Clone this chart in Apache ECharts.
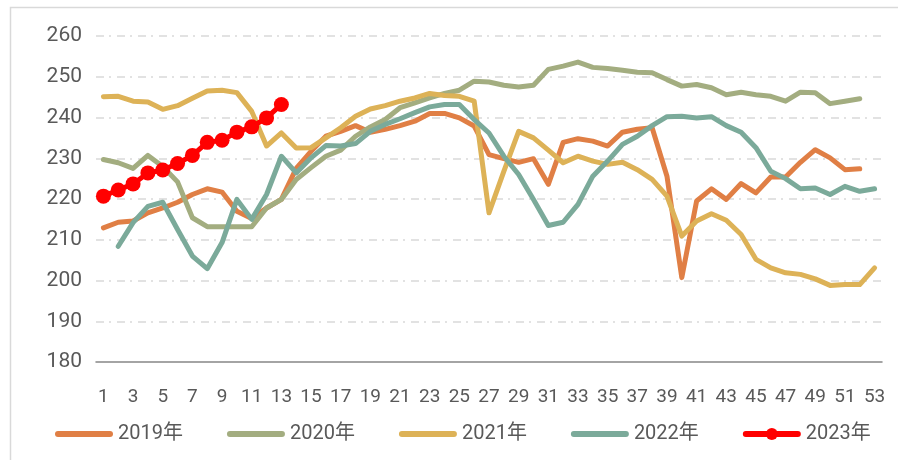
<!DOCTYPE html>
<html>
<head>
<meta charset="utf-8">
<script src="https://cdn.jsdelivr.net/npm/echarts@6/dist/echarts.min.js"></script>
<style>html,body{margin:0;padding:0;background:#fff;}#c{width:898px;height:460px;}</style>
</head>
<body>
<div id="c"></div>
<script>
const weeks = Array.from({length: 53}, (_, i) => String(i + 1));
const yTicks = [180, 190, 200, 210, 220, 230, 240, 250, 260];
const seriesNames = ['2019年', '2020年', '2021年', '2022年', '2023年'];
const y2019 = [212.9, 214.3, 214.6, 216.6, 217.8, 219.2, 221.1, 222.5, 221.7, 217.0, 215.2, 217.8, 219.9, 227.5, 231.7, 235.4, 236.6, 238.0, 236.4, 237.1, 238.0, 239.1, 241.0, 241.0, 239.9, 237.9, 230.9, 229.9, 229.0, 229.9, 223.6, 233.9, 234.8, 234.2, 233.0, 236.4, 237.1, 237.5, 225.6, 200.7, 219.5, 222.5, 219.9, 223.8, 221.5, 225.4, 225.4, 229.0, 232.1, 230.1, 227.2, 227.4];
const y2020 = [229.7, 228.9, 227.5, 230.7, 228.0, 224.2, 215.4, 213.2, 213.2, 213.2, 213.2, 217.8, 219.9, 224.8, 227.7, 230.5, 232.0, 235.4, 237.7, 239.5, 242.4, 243.6, 244.8, 245.9, 246.7, 248.9, 248.7, 247.9, 247.5, 247.9, 251.8, 252.6, 253.6, 252.3, 252.0, 251.6, 251.1, 251.0, 249.3, 247.7, 248.1, 247.3, 245.6, 246.2, 245.6, 245.2, 244.0, 246.2, 246.1, 243.4, 244.0, 244.6];
const y2021 = [245.1, 245.2, 244.0, 243.8, 242.0, 242.9, 244.7, 246.5, 246.7, 246.1, 241.5, 233.0, 236.2, 232.5, 232.6, 235.0, 237.5, 240.3, 242.1, 242.9, 244.0, 244.8, 245.9, 245.4, 245.2, 244.0, 216.6, 226.8, 236.6, 235.0, 232.0, 228.9, 230.5, 229.3, 228.5, 229.0, 227.2, 224.8, 220.7, 210.9, 214.6, 216.4, 214.8, 211.3, 205.2, 203.1, 201.9, 201.5, 200.4, 198.8, 199.0, 199.0, 203.1];
const y2022 = [null, 208.4, 214.2, 218.2, 219.2, 212.5, 206.0, 202.9, 209.3, 219.9, 215.0, 221.1, 230.5, 226.4, 230.1, 233.1, 233.0, 233.6, 236.6, 238.3, 239.7, 241.2, 242.6, 243.2, 243.2, 239.5, 236.2, 230.5, 226.0, 219.9, 213.5, 214.3, 218.7, 225.6, 229.3, 233.4, 235.4, 238.0, 240.2, 240.3, 239.9, 240.2, 238.0, 236.4, 232.6, 226.8, 225.0, 222.5, 222.7, 221.1, 223.1, 221.9, 222.5];
const y2023 = [220.7, 222.2, 223.7, 226.4, 227.1, 228.7, 230.7, 233.9, 234.4, 236.4, 237.7, 239.9, 243.2];

const colors = ['#E07F45', '#A3AD80', '#DDB257', '#7BAA9A', '#FF0000'];
const seriesData = [y2019, y2020, y2021, y2022, y2023];
const FONT = 'Roboto, "Noto Sans CJK SC", sans-serif';

const chart = echarts.init(document.getElementById('c'), null, {renderer: 'canvas'});
chart.setOption({
  animation: false,
  backgroundColor: '#fff',
  graphic: [{
    type: 'rect', silent: true, z: -10,
    shape: {x: 10.5, y: 7.5, width: 1000, height: 1000},
    style: {fill: 'none', stroke: '#d9d9d9', lineWidth: 1.5}
  }],
  grid: {left: 96, right: 16, top: 36, bottom: 98, containLabel: false},
  legend: {
    left: 55, top: 424, padding: 0,
    itemWidth: 52, itemHeight: 15, itemGap: 44,
    textStyle: {fontFamily: FONT, fontSize: 20, color: '#595959', padding: [0, 0, 0, 3]},
    data: seriesNames.map((n, i) => ({
      name: n,
      lineStyle: {width: 6, color: colors[i], cap: 'round'},
      itemStyle: i === 4 ? {color: colors[i]} : {color: 'rgba(0,0,0,0)', opacity: 0, borderWidth: 0}
    }))
  },
  xAxis: {
    type: 'category', data: weeks, boundaryGap: true,
    axisLine: {show: true, lineStyle: {color: '#868686', width: 1.5}},
    axisTick: {show: false},
    axisLabel: {interval: 1, margin: 26, fontFamily: FONT, fontSize: 19, color: '#595959'}
  },
  yAxis: {
    type: 'value', min: 180, max: 260, interval: 10,
    axisLine: {show: false}, axisTick: {show: false},
    axisLabel: {margin: 14, fontFamily: FONT, fontSize: 21, color: '#595959'},
    splitLine: {show: true, showMinLine: false, lineStyle: {color: '#d9d9d9', width: 1.5, type: [8, 5, 2, 6]}}
  },
  series: seriesData.map((d, i) => ({
    name: seriesNames[i], type: 'line', data: d,
    color: colors[i],
    symbol: i === 4 ? 'circle' : 'none',
    showSymbol: i === 4, showAllSymbol: true, symbolSize: 15,
    connectNulls: false,
    lineStyle: {width: 5, color: colors[i], cap: 'round', join: 'round'},
    itemStyle: {color: colors[i]},
    z: i === 4 ? 10 : 2 + i
  }))
});
</script>
</body>
</html>
